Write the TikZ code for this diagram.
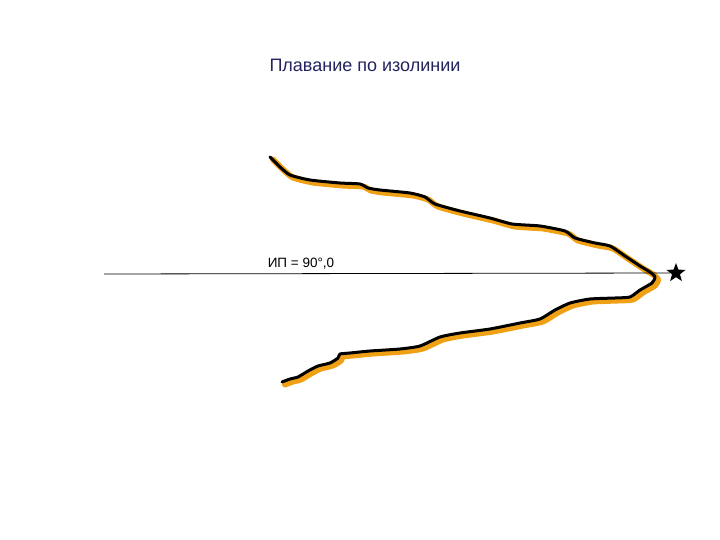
\documentclass[tikz,border=0pt]{standalone}
\usepackage{fontspec}
\setmainfont{Liberation Sans}
\usetikzlibrary{shapes.geometric}

\definecolor{isoorange}{RGB}{240,160,20}
\definecolor{titlenavy}{RGB}{35,35,95}

\tikzset{
  isoline/.style={line width=#1, line join=round, line cap=round},
}

\begin{document}
\begin{tikzpicture}[x=1pt,y=-1pt]
\useasboundingbox (0,0) rectangle (720,540);

\def\isopath{plot[smooth, tension=0.35] coordinates {(270,157) (280,167) (290,175) (310,180) (340,183) (360,184) (368,188) (380,190) (410,193) (425,197) (435,204) (460,211) (490,218) (512,224) (540,226) (565,231) (575,238) (595,243) (610,246) (625,256) (640,266) (650,272) (655,277) (652,283) (640,290) (630,297) (615,298) (590,299) (570,303) (555,310) (540,319) (520,323) (490,329) (460,333) (440,337) (420,346) (400,349) (370,351) (350,353) (340,354) (338,358) (330,363) (318,366) (308,371) (298,377) (290,379) (282,382)}}

\draw[isoorange, isoline=6pt, shift={(3,2.5)}] \isopath ;
\draw[black, isoline=3pt] \isopath ;

\node[star, star points=5, star point ratio=2.4, fill=black, inner sep=0pt, minimum size=20pt] (ref) at (676,273) {};
\draw[black, line width=0.8pt] (104,274) coordinate (west) -- (ref.west) ;

\node[font=\fontsize{13.5}{15}\selectfont] (ip) at (301,264) {ИП = 90°,0} ;
\node[titlenavy, font=\fontsize{18}{20}\selectfont] (title) at (365,65) {Плавание по изолинии} ;
\end{tikzpicture}
\end{document}
